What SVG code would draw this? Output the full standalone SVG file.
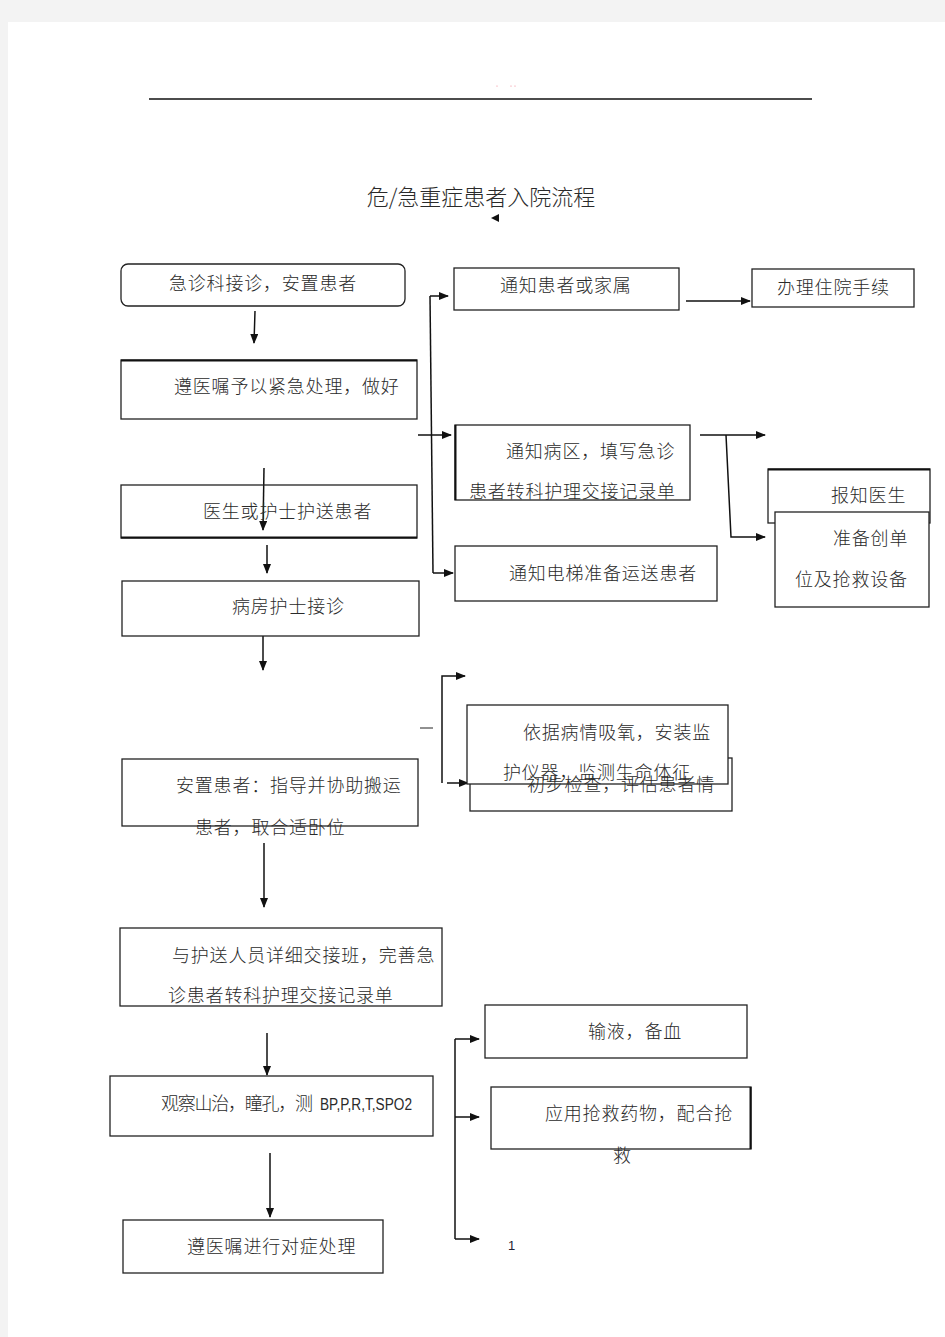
<svg xmlns="http://www.w3.org/2000/svg" width="945" height="1337" viewBox="0 0 945 1337">
<style>
.bx{fill:none;stroke:#222;stroke-width:1.3}
.bw{fill:#fff;stroke:#222;stroke-width:1.3}
.t{font-family:"Noto Sans CJK SC","Liberation Sans",sans-serif;font-size:18px;letter-spacing:0.8px;fill:#2a2a2a;font-weight:300}
.c{fill:none;stroke:#111;stroke-width:1.5}
</style>
<defs>
<marker id="ah" markerWidth="10" markerHeight="8" refX="9" refY="4" orient="auto" markerUnits="userSpaceOnUse">
<path d="M0,0 L10,4 L0,8 Z" fill="#111"/>
</marker>
</defs>
<rect x="0" y="0" width="945" height="1337" fill="#f3f3f3"/>
<rect x="8" y="22" width="937" height="1315" fill="#fff"/>
<line x1="149" y1="99" x2="812" y2="99" stroke="#111" stroke-width="1.3"/>
<circle cx="497" cy="86" r="0.6" fill="#f08090"/>
<circle cx="511" cy="86" r="0.6" fill="#f08090"/>
<circle cx="515" cy="86" r="0.6" fill="#f08090"/>
<text x="481" y="205" text-anchor="middle" style="font-family:'Noto Sans CJK SC','Liberation Sans',sans-serif;font-size:22px;fill:#2a2a2a;font-weight:300">危/急重症患者入院流程</text>
<path d="M491,218 L499,214 L499,222 Z" fill="#111"/>

<g id="connectors">
<line class="c" x1="255" y1="311" x2="254" y2="343" marker-end="url(#ah)"/>
<line class="c" x1="264" y1="468" x2="263" y2="530" marker-end="url(#ah)"/>
<line class="c" x1="267" y1="545" x2="267" y2="573" marker-end="url(#ah)"/>
<line class="c" x1="263" y1="636" x2="263" y2="670" marker-end="url(#ah)"/>
<polyline class="c" points="430,296 433,573"/>
<line class="c" x1="430" y1="296" x2="448" y2="296" marker-end="url(#ah)"/>
<line class="c" x1="418" y1="435" x2="451" y2="435" marker-end="url(#ah)"/>
<line class="c" x1="433" y1="573" x2="453" y2="573" marker-end="url(#ah)"/>
<line class="c" x1="686" y1="301" x2="750" y2="301" marker-end="url(#ah)"/>
<line class="c" x1="700" y1="435" x2="765" y2="435" marker-end="url(#ah)"/>
<polyline class="c" points="726,435 731,537 765,537" marker-end="url(#ah)"/>
<polyline class="c" points="442,783 442,676 465,676" marker-end="url(#ah)"/>
<line class="c" x1="447" y1="783" x2="468" y2="783" marker-end="url(#ah)"/>
<line x1="420" y1="728" x2="433" y2="728" stroke="#222" stroke-width="1"/>
<line class="c" x1="264" y1="843" x2="264" y2="907" marker-end="url(#ah)"/>
<line class="c" x1="267" y1="1033" x2="267" y2="1075" marker-end="url(#ah)"/>
<line class="c" x1="270" y1="1153" x2="270" y2="1217" marker-end="url(#ah)"/>
<line class="c" x1="455" y1="1039" x2="455" y2="1239"/>
<line class="c" x1="455" y1="1039" x2="479" y2="1039" marker-end="url(#ah)"/>
<line class="c" x1="455" y1="1117" x2="479" y2="1117" marker-end="url(#ah)"/>
<line class="c" x1="455" y1="1239" x2="479" y2="1239" marker-end="url(#ah)"/>
</g>

<g id="n1"><rect class="bx" x="121" y="264" width="284" height="42" rx="7"/><text class="t" x="169" y="290">急诊科接诊，安置患者</text></g>
<g id="n2"><rect class="bx" x="121" y="360" width="296" height="59"/><line x1="121" y1="360.5" x2="417" y2="360.5" stroke="#111" stroke-width="2"/><text class="t" x="174" y="393">遵医嘱予以紧急处理，做好</text></g>
<g id="n3"><rect class="bx" x="121" y="485" width="296" height="53"/><line x1="121" y1="537.5" x2="417" y2="537.5" stroke="#111" stroke-width="1.8"/><text class="t" x="203" y="518">医生或护士护送患者</text></g>
<g id="n4"><rect class="bx" x="122" y="581" width="297" height="55"/><text class="t" x="232" y="613">病房护士接诊</text></g>
<g id="n5"><rect class="bx" x="454" y="268" width="225" height="42"/><text class="t" x="500" y="292">通知患者或家属</text></g>
<g id="n6"><rect class="bx" x="752" y="269" width="162" height="38"/><text class="t" x="777" y="294">办理住院手续</text></g>
<g id="n7"><rect class="bx" x="455" y="425" width="235" height="75"/><line x1="455.5" y1="425" x2="455.5" y2="500" stroke="#111" stroke-width="2"/><text class="t" x="506" y="458">通知病区，填写急诊</text><text class="t" x="469" y="498">患者转科护理交接记录单</text></g>
<g id="n8"><rect class="bx" x="768" y="469" width="162" height="54"/><line x1="768" y1="469.5" x2="930" y2="469.5" stroke="#111" stroke-width="2"/><text class="t" x="831" y="502">报知医生</text></g>
<g id="n9"><rect class="bw" x="775" y="512" width="154" height="95"/><text class="t" x="833" y="545">准备创单</text><text class="t" x="795" y="586">位及抢救设备</text></g>
<g id="n10"><rect class="bx" x="455" y="546" width="262" height="55"/><text class="t" x="509" y="580">通知电梯准备运送患者</text></g>
<g id="n11"><rect class="bx" x="470" y="758" width="262" height="53"/></g>
<g id="n12"><rect class="bw" x="467" y="705" width="261" height="79"/><text class="t" x="523" y="739">依据病情吸氧，安装监</text><text class="t" x="503" y="779">护仪器，监测生命体征</text></g>
<g id="n11t"><text class="t" x="527" y="791">初步检查，评估患者情</text></g>
<g id="n13"><rect class="bx" x="122" y="759" width="296" height="67"/><text class="t" x="176" y="792">安置患者：指导并协助搬运</text><text class="t" x="195" y="834">患者，取合适卧位</text></g>
<g id="n14"><rect class="bx" x="120" y="928" width="322" height="78"/><text class="t" x="172" y="962">与护送人员详细交接班，完善急</text><text class="t" x="168" y="1002">诊患者转科护理交接记录单</text></g>
<g id="n15"><rect class="bx" x="110" y="1076" width="323" height="60"/><text class="t" x="161" y="1110" textLength="152" lengthAdjust="spacing" style="letter-spacing:0">观察山治，瞳孔，测</text><text x="320" y="1110" textLength="92" lengthAdjust="spacingAndGlyphs" style="font-family:'Liberation Sans',sans-serif;font-size:16px;fill:#2a2a2a">BP,P,R,T,SPO2</text></g>
<g id="n16"><rect class="bx" x="123" y="1220" width="260" height="53"/><text class="t" x="187" y="1253">遵医嘱进行对症处理</text></g>
<g id="n17"><rect class="bx" x="485" y="1005" width="262" height="53"/><text class="t" x="588" y="1038">输液，备血</text></g>
<g id="n18"><rect class="bx" x="491" y="1087" width="260" height="62"/><line x1="750.5" y1="1087" x2="750.5" y2="1149" stroke="#111" stroke-width="2"/><text class="t" x="545" y="1120">应用抢救药物，配合抢</text><text class="t" x="613" y="1162">救</text></g>
<text x="508" y="1250" style="font-family:'Liberation Sans',sans-serif;font-size:13px;fill:#223">1</text>
</svg>
